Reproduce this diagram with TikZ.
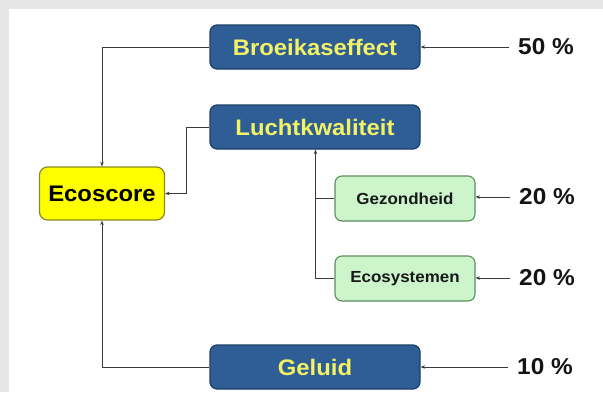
\documentclass[tikz,border=0pt]{standalone}
\usepackage{fontspec}
\setmainfont[FakeStretch=1.06]{Liberation Sans}
\usetikzlibrary{arrows.meta}
\definecolor{bgGray}{HTML}{E6E6E6}
\definecolor{boxBlue}{HTML}{2F5E97}
\definecolor{boxBlueEdge}{HTML}{1E3E68}
\definecolor{txtYellow}{HTML}{F2F266}
\definecolor{ecoYellow}{HTML}{FFFF00}
\definecolor{ecoEdge}{HTML}{8A8A20}
\definecolor{greenFill}{HTML}{CCF5CC}
\definecolor{greenEdge}{HTML}{5E8E5E}
\definecolor{lineGray}{HTML}{3A3A3A}
\tikzset{
  bluebox/.style={draw=boxBlueEdge, line width=1.2pt, fill=boxBlue, rounded corners=7pt,
    minimum width=210pt, minimum height=44pt, inner sep=0pt,
    text=txtYellow, font=\fontsize{22.5}{24}\selectfont\bfseries},
  ecobox/.style={draw=ecoEdge, line width=1.2pt, fill=ecoYellow, rounded corners=8pt,
    minimum width=125pt, minimum height=53pt, inner sep=0pt,
    text=black, font=\fontsize{22.5}{24}\selectfont\bfseries},
  greenbox/.style={draw=greenEdge, line width=1.1pt, fill=greenFill, rounded corners=7pt,
    minimum width=140pt, minimum height=45pt, inner sep=0pt,
    text=black!90, font=\fontsize{16}{18}\selectfont\bfseries},
  pct/.style={anchor=west, inner xsep=9pt, inner ysep=0pt, text=black!92,
    font=\fontsize{23}{25}\selectfont\bfseries},
  conn/.style={draw=lineGray, line width=0.9pt},
  arr/.style={conn, -{Stealth[length=4.5pt,width=3.5pt]}}
}
\begin{document}
\begin{tikzpicture}[x=1pt,y=-1pt]
\useasboundingbox (0,0) rectangle (603,392);
\fill[bgGray] (0,0) rectangle (603,392);
\fill[white] (9,9) rectangle (603,392);

\node[bluebox] (broei) at (315,47) {Broeikaseffect};
\node[bluebox] (lucht) at (315,127) {Luchtkwaliteit};
\node[bluebox] (geluid) at (315,367) {Geluid};
\node[ecobox] (eco) at (102,193.5) {Ecoscore};
\node[greenbox] (gez) at (405,198.5) {Gezondheid};
\node[greenbox] (ecosys) at (405,278.5) {Ecosystemen};

\node[pct] (p50) at (509,47) {50 \%};
\node[pct] (p20a) at (510,197) {20 \%};
\node[pct] (p20b) at (510,278) {20 \%};
\node[pct] (p10) at (508,367) {10 \%};

\draw[arr] (broei.west) -| (eco.north);
\draw[arr] (geluid.west) -| (eco.south);
\draw[arr] (lucht.west) -- ++(-23,0) coordinate (lk) |- (eco.east);
\draw[arr] (ecosys.west) -- ++(-19,0) coordinate (ek) -- (ek |- lucht.south);
\draw[conn] (gez.west) -- (gez.west -| ek);

\draw[arr] (p50.west) -- (broei.east);
\draw[arr] (p20a.west) -- (p20a.west -| gez.east);
\draw[arr] (p20b.west) -- (p20b.west -| ecosys.east);
\draw[arr] (p10.west) -- (geluid.east);
\end{tikzpicture}
\end{document}
